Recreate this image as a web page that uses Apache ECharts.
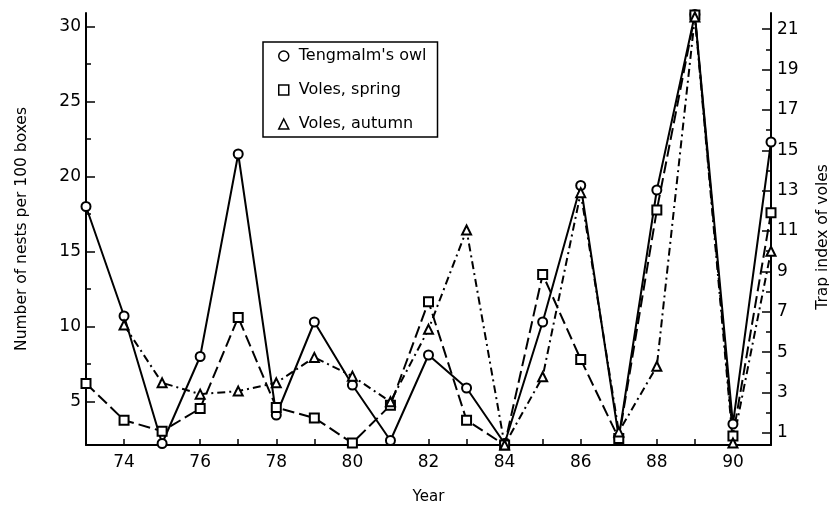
<!DOCTYPE html>
<html>
<head>
<meta charset="utf-8">
<script src="https://cdn.jsdelivr.net/npm/echarts@6/dist/echarts.min.js"></script>
<style>
  html, body { margin: 0; padding: 0; background: #fff; }
  #chart { width: 829px; height: 505px; }
</style>
</head>
<body>
<div id="chart"></div>
<script>
// years 1973-1991
const years = [73, 74, 75, 76, 77, 78, 79, 80, 81, 82, 83, 84, 85, 86, 87, 88, 89, 90, 91];
// nests per 100 boxes (left axis)
const owl = [18.0, 10.7, 2.2, 8.0, 21.5, 4.1, 10.3, 6.1, 2.4, 8.1, 5.9, 2.2, 10.3, 19.4, 2.6, 19.1, 30.8, 3.5, 22.3];
// trap index (right axis)
const volesSpring = [3.45, 1.63, 1.08, 2.21, 6.72, 2.26, 1.74, 0.5, 2.37, 7.5, 1.63, 0.4, 8.85, 4.64, 0.72, 12.04, 21.7, 0.84, 11.9];
const volesAutumn = [null, 6.34, 3.48, 2.92, 3.07, 3.48, 4.74, 3.81, 2.54, 6.13, 11.05, 0.4, 3.78, 12.9, 1.05, 4.3, 21.6, 0.5, 10.0];

const leftTicks = [5, 10, 15, 20, 25, 30];
const leftMinor = [7.5, 12.5, 17.5, 22.5, 27.5];
const rightTicks = [1, 3, 5, 7, 9, 11, 13, 15, 17, 19, 21];
const rightMinor = [2, 4, 6, 8, 10, 12, 14, 16, 18, 20];

const font = 'DejaVu Sans';
const pairs = arr => years.map((y, i) => arr[i] == null ? [y, '-'] : [y, arr[i]]);

var chart = echarts.init(document.getElementById('chart'));

// shared look of the y axes
function yAx(opts) {
  return Object.assign({
    type: 'value',
    splitLine: { show: false },
    axisLine: { show: true, onZero: false, lineStyle: { color: '#000', width: 2 } },
  }, opts);
}

var option = {
  animation: false,
  backgroundColor: '#fff',
  grid: { left: 86, right: 58, top: 13, bottom: 60, outerBoundsMode: 'none' },
  legend: {
    orient: 'vertical',
    left: 263,
    top: 42,
    padding: [6, 11, 5, 15],
    itemGap: 18,
    itemWidth: 10,
    itemHeight: 10,
    borderColor: '#000',
    borderWidth: 1.5,
    itemStyle: { color: '#fff', borderColor: '#000', borderWidth: 1.5 },
    textStyle: { fontFamily: font, fontSize: 16, color: '#000', padding: [0, 0, 0, 5] },
    data: [
      { name: "Tengmalm's owl", icon: 'circle' },
      { name: 'Voles, spring', icon: 'rect' },
      { name: 'Voles, autumn', icon: 'triangle' }
    ]
  },
  xAxis: {
    type: 'value',
    min: 73,
    max: 91,
    interval: 1,
    name: 'Year',
    nameLocation: 'middle',
    nameGap: 45,
    nameTextStyle: { fontFamily: font, fontSize: 15, color: '#000' },
    splitLine: { show: false },
    axisLine: { onZero: false, lineStyle: { color: '#000', width: 2 } },
    axisTick: { inside: true, length: 6, lineStyle: { color: '#000', width: 1.5 } },
    axisLabel: {
      margin: 9,
      fontFamily: font, fontSize: 17, color: '#000',
      formatter: v => (v % 2 === 0 ? String(v) : '')
    }
  },
  yAxis: [
    yAx({
      position: 'left',
      min: 2.1, max: 30.9,
      name: 'Number of nests per 100 boxes',
      nameLocation: 'middle',
      nameGap: 56,
      nameRotate: 90,
      nameTextStyle: { fontFamily: font, fontSize: 15.5, color: '#000' },
      axisTick: { inside: true, length: 9, customValues: leftTicks, lineStyle: { color: '#000', width: 1.5 } },
      axisLabel: { margin: 5, customValues: leftTicks, fontFamily: font, fontSize: 17, color: '#000' }
    }),
    yAx({
      position: 'right',
      min: 0.4, max: 21.8,
      name: 'Trap index of voles',
      nameLocation: 'middle',
      nameGap: 44,
      nameRotate: 90,
      nameTextStyle: { fontFamily: font, fontSize: 15.5, color: '#000', padding: [0, 16, 0, 0] },
      axisTick: { inside: true, length: 9, customValues: rightTicks, lineStyle: { color: '#000', width: 1.5 } },
      axisLabel: { margin: 6, customValues: rightTicks, fontFamily: font, fontSize: 17, color: '#000' }
    }),
    // minor ticks
    yAx({
      position: 'left', min: 2.1, max: 30.9,
      axisLine: { show: false },
      axisTick: { inside: true, length: 5, customValues: leftMinor, lineStyle: { color: '#000', width: 1.5 } },
      axisLabel: { show: false }
    }),
    yAx({
      position: 'right', min: 0.4, max: 21.8,
      axisLine: { show: false },
      axisTick: { inside: true, length: 5, customValues: rightMinor, lineStyle: { color: '#000', width: 1.5 } },
      axisLabel: { show: false }
    })
  ],
  series: [
    {
      name: "Tengmalm's owl",
      type: 'line',
      yAxisIndex: 0,
      data: pairs(owl),
      symbol: 'emptyCircle',
      symbolSize: 9,
      itemStyle: { color: '#000', borderWidth: 1.5 },
      lineStyle: { color: '#000', width: 2, type: 'solid' }
    },
    {
      name: 'Voles, spring',
      type: 'line',
      yAxisIndex: 1,
      data: pairs(volesSpring),
      symbol: 'emptyRect',
      symbolSize: 9,
      itemStyle: { color: '#000', borderWidth: 1.5 },
      lineStyle: { color: '#000', width: 2, type: [12, 5] }
    },
    {
      name: 'Voles, autumn',
      type: 'line',
      yAxisIndex: 1,
      data: pairs(volesAutumn),
      symbol: 'emptyTriangle',
      symbolSize: 9,
      itemStyle: { color: '#000', borderWidth: 1.5 },
      lineStyle: { color: '#000', width: 2, type: [8, 4, 2, 4] }
    }
  ]
};
option && chart.setOption(option);
</script>
</body>
</html>
